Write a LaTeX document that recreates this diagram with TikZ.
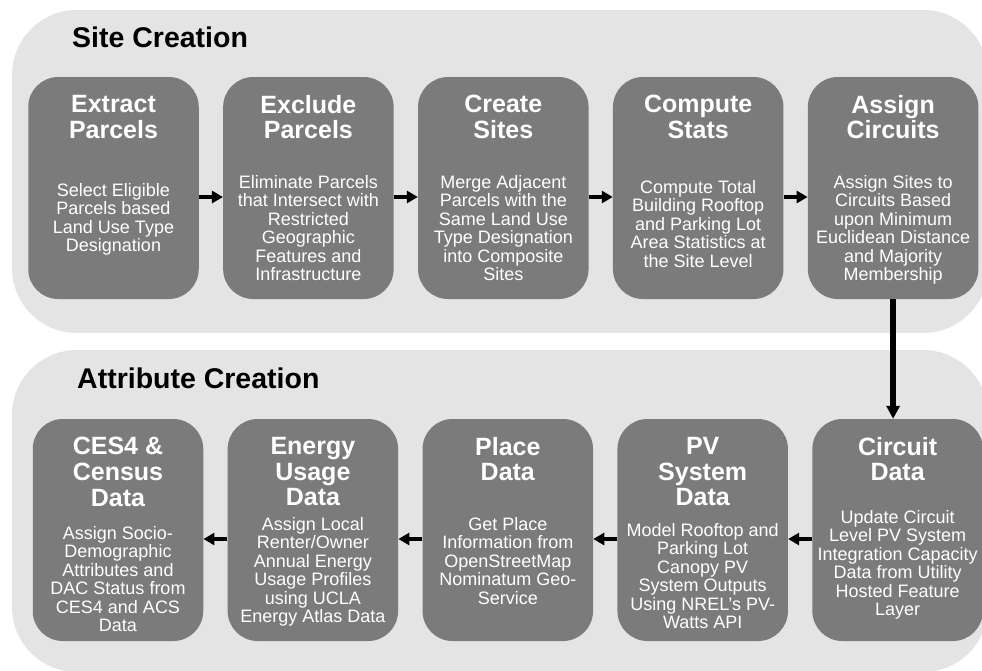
\documentclass[tikz,border=0pt]{standalone}
\usepackage{fontspec}
\setmainfont{Liberation Sans}
\usetikzlibrary{arrows.meta}
\usetikzlibrary{positioning}
\definecolor{panelgray}{HTML}{E4E4E4}
\definecolor{boxgray}{HTML}{7B7B7B}

\begin{document}
\begin{tikzpicture}[x=1pt, y=-1pt,
    stage/.style={fill=boxgray, rounded corners=30pt, minimum width=170.5pt, minimum height=222pt, inner sep=0pt},
    head/.style={anchor=north, inner sep=0pt, white, align=center, font=\fontsize{25}{25.8}\selectfont\bfseries},
    body/.style={anchor=north, inner sep=0pt, white, align=center, font=\fontsize{18}{18.5}\selectfont},
    flow/.style={line width=4.5pt, -{Triangle[length=11pt, width=12pt]}}]
    % panels and stages
    \useasboundingbox (0, 0) rectangle (982, 670);
    \begin{scope}
        \clip (0, 0) rectangle (982, 670);
        \fill[panelgray, rounded corners=65pt] (12, 10) rectangle (988, 333);
        \fill[panelgray, rounded corners=65pt] (12, 350) rectangle (988, 672);
    \end{scope}
    \node[anchor=north west, inner sep=0pt, font=\fontsize{28.5}{30}\selectfont\bfseries] (site) at (72, 27) {Site Creation};
    \node[anchor=north west, inner sep=0pt, font=\fontsize{28.5}{30}\selectfont\bfseries] (attr) at (77, 368) {Attribute Creation};

    \node[stage] (b1) at (113.5, 188) {};
    \node[stage, right=24pt of b1] (b2) {};
    \node[stage, right=24pt of b2] (b3) {};
    \node[stage, right=24pt of b3] (b4) {};
    \node[stage, right=24pt of b4] (b5) {};

    \node[stage] (c1) at (118, 530) {};
    \node[stage, right=24pt of c1] (c2) {};
    \node[stage, right=24pt of c2] (c3) {};
    \node[stage, right=24pt of c3] (c4) {};
    \node[stage, right=24pt of c4] (c5) {};

    \node[head] (b1t) at ([yshift=-18pt]b1.north) {Extract\\Parcels};
    \node[head] (b2t) at ([yshift=-18pt]b2.north) {Exclude\\Parcels};
    \node[head] (b3t) at ([yshift=-18pt]b3.north) {Create\\Sites};
    \node[head] (b4t) at ([yshift=-18pt]b4.north) {Compute\\Stats};
    \node[head] (b5t) at ([yshift=-18pt]b5.north) {Assign\\Circuits};

    \node[body] (b1d) at ([yshift=-106pt]b1.north) {Select Eligible\\Parcels based\\Land Use Type\\Designation};
    \node[body] (b2d) at ([yshift=-98pt]b2.north) {Eliminate Parcels\\that Intersect with\\Restricted\\Geographic\\Features and\\Infrastructure};
    \node[body] (b3d) at ([yshift=-98pt]b3.north) {Merge Adjacent\\Parcels with the\\Same Land Use\\Type Designation\\into Composite\\Sites};
    \node[body] (b4d) at ([yshift=-103pt]b4.north) {Compute Total\\Building Rooftop\\and Parking Lot\\Area Statistics at\\the Site Level};
    \node[body] (b5d) at ([yshift=-98pt]b5.north) {Assign Sites to\\Circuits Based\\upon Minimum\\Euclidean Distance\\and Majority\\Membership};

    \node[head] (c1t) at ([yshift=-18pt]c1.north) {CES4 \&\\Census\\Data};
    \node[head] (c2t) at ([yshift=-18pt]c2.north) {Energy\\Usage\\Data};
    \node[head] (c3t) at ([yshift=-18pt]c3.north) {Place\\Data};
    \node[head] (c4t) at ([yshift=-18pt]c4.north) {PV\\System\\Data};
    \node[head] (c5t) at ([yshift=-18pt]c5.north) {Circuit\\Data};

    \node[body] (c1d) at ([yshift=-107pt]c1.north) {Assign Socio-\\Demographic\\Attributes and\\DAC Status from\\CES4 and ACS\\Data};
    \node[body] (c2d) at ([yshift=-98pt]c2.north) {Assign Local\\Renter/Owner\\Annual Energy\\Usage Profiles\\using UCLA\\Energy Atlas Data};
    \node[body] (c3d) at ([yshift=-98pt]c3.north) {Get Place\\Information from\\OpenStreetMap\\Nominatum Geo-\\Service};
    \node[body] (c4d) at ([yshift=-104pt]c4.north) {Model Rooftop and\\Parking Lot\\Canopy PV\\System Outputs\\Using NREL's PV-\\Watts API};
    \node[body] (c5d) at ([yshift=-91pt]c5.north) {Update Circuit\\Level PV System\\Integration Capacity\\Data from Utility\\Hosted Feature\\Layer};

    \draw[flow] ([yshift=-9pt]b1.east) -- ([yshift=-9pt]b2.west);
    \draw[flow] ([yshift=-9pt]b2.east) -- ([yshift=-9pt]b3.west);
    \draw[flow] ([yshift=-9pt]b3.east) -- ([yshift=-9pt]b4.west);
    \draw[flow] ([yshift=-9pt]b4.east) -- ([yshift=-9pt]b5.west);
    \draw[flow, line width=5.5pt, -{Triangle[length=13pt, width=13pt]}] (b5.south) -- (b5.south |- c5.north);
    \draw[flow] ([yshift=-9pt]c5.west) -- ([yshift=-9pt]c4.east);
    \draw[flow] ([yshift=-9pt]c4.west) -- ([yshift=-9pt]c3.east);
    \draw[flow] ([yshift=-9pt]c3.west) -- ([yshift=-9pt]c2.east);
    \draw[flow] ([yshift=-9pt]c2.west) -- ([yshift=-9pt]c1.east);
\end{tikzpicture}
\end{document}
